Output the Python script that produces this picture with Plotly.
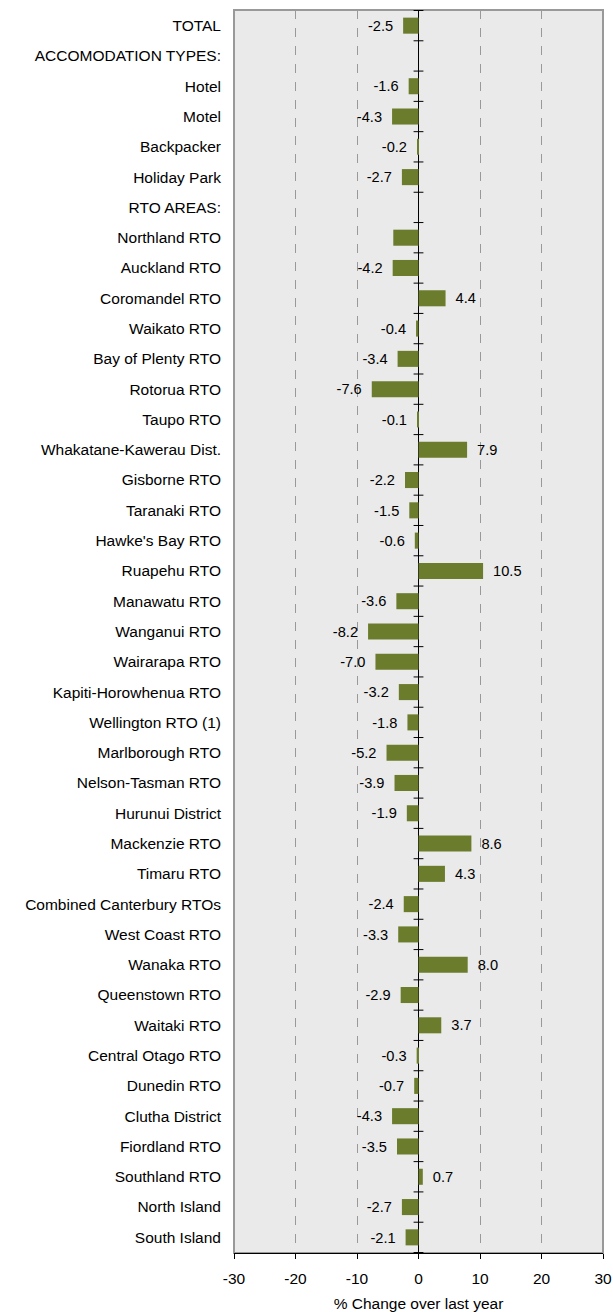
import plotly.graph_objects as go

categories = [
    "TOTAL", "ACCOMODATION TYPES:", "Hotel", "Motel", "Backpacker", "Holiday Park",
    "RTO AREAS:", "Northland RTO", "Auckland RTO", "Coromandel RTO", "Waikato RTO",
    "Bay of Plenty RTO", "Rotorua RTO", "Taupo RTO", "Whakatane-Kawerau Dist.",
    "Gisborne RTO", "Taranaki RTO", "Hawke's Bay RTO", "Ruapehu RTO", "Manawatu RTO",
    "Wanganui RTO", "Wairarapa RTO", "Kapiti-Horowhenua RTO", "Wellington RTO (1)",
    "Marlborough RTO", "Nelson-Tasman RTO", "Hurunui District", "Mackenzie RTO",
    "Timaru RTO", "Combined Canterbury RTOs", "West Coast RTO", "Wanaka RTO",
    "Queenstown RTO", "Waitaki RTO", "Central Otago RTO", "Dunedin RTO",
    "Clutha District", "Fiordland RTO", "Southland RTO", "North Island", "South Island",
]
values = [
    -2.5, None, -1.6, -4.3, -0.2, -2.7,
    None, -4.1, -4.2, 4.4, -0.4,
    -3.4, -7.6, -0.1, 7.9,
    -2.2, -1.5, -0.6, 10.5, -3.6,
    -8.2, -7.0, -3.2, -1.8,
    -5.2, -3.9, -1.9, 8.6,
    4.3, -2.4, -3.3, 8.0,
    -2.9, 3.7, -0.3, -0.7,
    -4.3, -3.5, 0.7, -2.7, -2.1,
]
show_label = [v is not None for v in values]
show_label[categories.index("Northland RTO")] = False

x_ticks = [-30, -20, -10, 0, 10, 20, 30]
x_title = "% Change over last year"

PAD = "\u00a0\u2009"
labels = []
for v, s in zip(values, show_label):
    if not s:
        labels.append("")
    elif v < 0:
        labels.append(f"{v:.1f}" + PAD)
    else:
        labels.append(PAD + f"{v:.1f}")

FONT = "Liberation Sans, Arial, sans-serif"
FS = 15.5
BAR = "#6B7D2D"

fig = go.Figure()
fig.add_trace(go.Bar(
    y=categories, x=values, orientation="h",
    marker=dict(color=BAR, line=dict(width=0)),
    text=labels, textposition="outside", cliponaxis=False,
    textfont=dict(family=FONT, size=FS, color="black"),
    hoverinfo="x+y",
))

# category boundary tick marks on the zero line
for i in range(len(categories) + 1):
    fig.add_shape(type="line", xref="x", yref="y",
                  x0=-0.8, x1=0.8, y0=i - 0.5, y1=i - 0.5,
                  line=dict(color="black", width=1), layer="above")

# plot-area border
fig.add_shape(type="rect", xref="paper", yref="paper", x0=0, x1=1, y0=0, y1=1,
              line=dict(color="#999999", width=2), layer="below")

fig.update_layout(
    width=613, height=1312,
    margin=dict(l=234, r=10, t=10, b=59, autoexpand=False),
    paper_bgcolor="white", plot_bgcolor="#EAEAEA",
    bargap=0.47, showlegend=False,
    font=dict(family=FONT, size=FS, color="black"),
)
fig.update_xaxes(
    range=[-30, 30], tickvals=x_ticks, ticktext=[str(t) for t in x_ticks],
    showgrid=True, gridcolor="#999999", griddash="dash", gridwidth=1,
    zeroline=True, zerolinecolor="black", zerolinewidth=1,
    showline=True, linecolor="black", linewidth=1,
    ticks="outside", ticklen=5, tickcolor="black", ticklabelstandoff=6,
    tickfont=dict(family=FONT, size=FS, color="black"),
    title=dict(text=x_title, font=dict(family=FONT, size=FS, color="black"), standoff=13),
    automargin=False, fixedrange=True,
)
fig.update_yaxes(
    type="category", categoryorder="array", categoryarray=categories,
    autorange="reversed", showgrid=False, zeroline=False, showline=False,
    ticks="", ticklabelstandoff=12,
    tickfont=dict(family=FONT, size=FS, color="black"),
    automargin=False, fixedrange=True,
)

fig.write_html(
    "out.html",
    config={"displayModeBar": False},
    post_script="document.body.style.margin='0';document.body.style.overflow='hidden';",
)
